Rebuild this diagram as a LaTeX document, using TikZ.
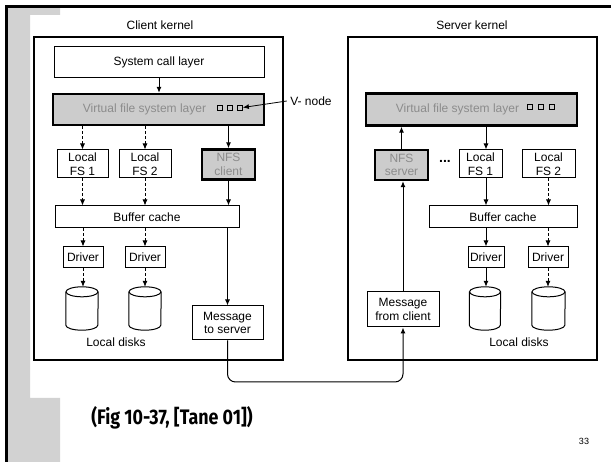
\documentclass[tikz,border=0pt]{standalone}
\usepackage{fontspec}
\setmainfont{Liberation Sans}
\newfontfamily\capfont[FakeStretch=0.85]{Fira Sans}
\usetikzlibrary{arrows.meta,calc}

% disk drawn round an empty named node: #1 node, #2 half width
\newcommand{\drawdisk}[2]{%
  \draw[line width=1pt] ($(#1.north west)+(0,5)$) -- ($(#1.south west)+(0,-5)$)
    arc[start angle=180,end angle=360,x radius=#2,y radius=5pt]
    -- ($(#1.north east)+(0,5)$);
  \draw[line width=1pt] ($(#1.north)+(0,5)$) ellipse[x radius=#2,y radius=5pt];}

\begin{document}
\begin{tikzpicture}[x=1pt,y=-1pt,>={Latex[length=6pt,width=5pt]},
  font=\fontsize{12}{13.5}\selectfont,
  kernel/.style={draw,line width=1.4pt,inner sep=0pt},
  layer/.style={draw,line width=1pt,inner sep=0pt,align=center},
  grlayer/.style={layer,fill=gray!40,line width=2.4pt,text=black!45},
  vnsq/.style={draw,line width=0.8pt,minimum size=5pt,inner sep=0pt},
  disk/.style={inner sep=0pt,minimum width=32pt,minimum height=43pt},
  flow/.style={->,line width=1pt},
  dflow/.style={->,line width=0.8pt,dash pattern=on 3pt off 2pt}]
\useasboundingbox (0,0) rectangle (611,462);
% slide frame
\fill[gray!35] (6,7) -- (60,7) -- (60,15) -- (30,15) -- (30,398) -- (60,398) -- (60,462) -- (6,462) -- cycle;
\draw[line width=3pt] (6,462) -- (6,7) -- (611,7);

% client side
\node[kernel,minimum width=249pt,minimum height=323pt] (kclient) at (158.5,198.5) {};
\node (lclient) at (160,25) {Client kernel};
\node[layer,minimum width=210pt,minimum height=31pt] (csys) at (159,62.5) {System call layer};
\node[grlayer,minimum width=211pt,minimum height=31pt] (cvfs) at (158.5,109.5) {\hspace*{-28pt}Virtual file system layer};
\node[vnsq] (csq1) at (220,107.5) {};
\node[vnsq] (csq2) at (230,107.5) {};
\node[vnsq] (csq3) at (240,107.5) {};
\node (vnode) at (311,101) {V- node};
\node[layer,minimum width=51pt,minimum height=28pt] (cfs1) at (82.5,164) {Local\\FS 1};
\node[layer,minimum width=52pt,minimum height=28pt] (cfs2) at (145,164) {Local\\FS 2};
\node[grlayer,minimum width=53pt,minimum height=30pt] (cnfs) at (228.5,164.5) {NFS\\client};
\node[layer,minimum width=184pt,minimum height=22pt] (cbuf) at (147,217) {Buffer cache};
\node[layer,minimum width=40pt,minimum height=21pt] (cdrv1) at (83,257.5) {Driver};
\node[layer,minimum width=40pt,minimum height=21pt] (cdrv2) at (145,257.5) {Driver};
\node[disk] (cdisk1) at (82,308.5) {};
\node[disk] (cdisk2) at (145,308.5) {};
\drawdisk{cdisk1}{16pt}
\drawdisk{cdisk2}{16pt}
\node (cdisks) at (116,342) {Local disks};
\node[layer,minimum width=71pt,minimum height=34pt] (cmsg) at (227.5,323) {Message\\to server};

\draw[flow] (csys) -- (csys |- cvfs.north);
\draw[<-,line width=0.8pt] (csq3.east) -- (vnode.west);
\draw[dflow] (cvfs.south -| cfs1) -- (cfs1);
\draw[dflow] (cvfs.south -| cfs2) -- (cfs2);
\draw[flow] (cvfs.south -| cnfs) -- (cnfs);
\draw[dflow] (cfs1) -- (cfs1 |- cbuf.north);
\draw[dflow] (cfs2) -- (cfs2 |- cbuf.north);
\draw[flow] (cnfs) -- (cnfs |- cbuf.north);
\draw[dflow] (cbuf.south -| cdrv1) -- (cdrv1);
\draw[dflow] (cbuf.south -| cdrv2) -- (cdrv2);
\draw[dflow] (cdrv1) -- (cdrv1 |- cdisk1.north);
\draw[dflow] (cdrv2) -- (cdrv2 |- cdisk2.north);
\draw[flow] (cbuf.south -| cmsg) -- (cmsg);

% server side
\node[kernel,minimum width=249pt,minimum height=323pt] (kserver) at (472.5,198.5) {};
\node (lserver) at (472,25) {Server kernel};
\node[grlayer,minimum width=211pt,minimum height=32pt] (svfs) at (471.5,109.5) {\hspace*{-28pt}Virtual file system layer};
\node[vnsq] (ssq1) at (530,107) {};
\node[vnsq] (ssq2) at (541,107) {};
\node[vnsq] (ssq3) at (552,107) {};
\node[grlayer,minimum width=53pt,minimum height=30pt] (snfs) at (401.5,165) {NFS\\server};
\node[font=\bfseries\fontsize{14}{14}\selectfont] (sdots) at (445,161) {...};
\node[layer,minimum width=43pt,minimum height=28pt] (sfs1) at (480.5,164) {Local\\FS 1};
\node[layer,minimum width=53pt,minimum height=28pt] (sfs2) at (548.5,164) {Local\\FS 2};
\node[layer,minimum width=148pt,minimum height=22pt] (sbuf) at (503,217) {Buffer cache};
\node[layer,minimum width=36pt,minimum height=21pt] (sdrv1) at (486,257.5) {Driver};
\node[layer,minimum width=40pt,minimum height=21pt] (sdrv2) at (548,257.5) {Driver};
\node[disk,minimum width=31pt] (sdisk1) at (485,308.5) {};
\node[disk,minimum width=33pt] (sdisk2) at (548.5,308.5) {};
\drawdisk{sdisk1}{15.5pt}
\drawdisk{sdisk2}{16.5pt}
\node (sdisks) at (519,342) {Local disks};
\node[layer,minimum width=72pt,minimum height=35pt] (smsg) at (403,309.5) {Message\\from client};

\draw[flow] (smsg) -- (smsg |- snfs.south);
\draw[flow] (snfs) -- (snfs |- svfs.south);
\draw[flow] (svfs.south -| sdrv1) -- (sdrv1 |- sfs1.north);
\draw[flow] (sdrv1 |- sfs1.south) -- (sdrv1 |- sbuf.north);
\draw[dflow] (sfs2) -- (sfs2 |- sbuf.north);
\draw[flow] (sbuf.south -| sdrv1) -- (sdrv1);
\draw[dflow] (sbuf.south -| sdrv2) -- (sdrv2);
\draw[flow] (sdrv1) -- (sdrv1 |- sdisk1.north);
\draw[dflow] (sdrv2) -- (sdrv2 |- sdisk2.north);

% network
\coordinate (wire) at (300,382);
\draw[->,line width=1pt,rounded corners=8pt] (cmsg) |- (wire) -| (smsg);

\node[font=\capfont\bfseries\fontsize{21}{21}\selectfont] (caption) at (172,418) {(Fig 10-37, [Tane 01])};
\node[font=\fontsize{9}{9}\selectfont] (pagenum) at (584,441) {33};
\end{tikzpicture}
\end{document}
